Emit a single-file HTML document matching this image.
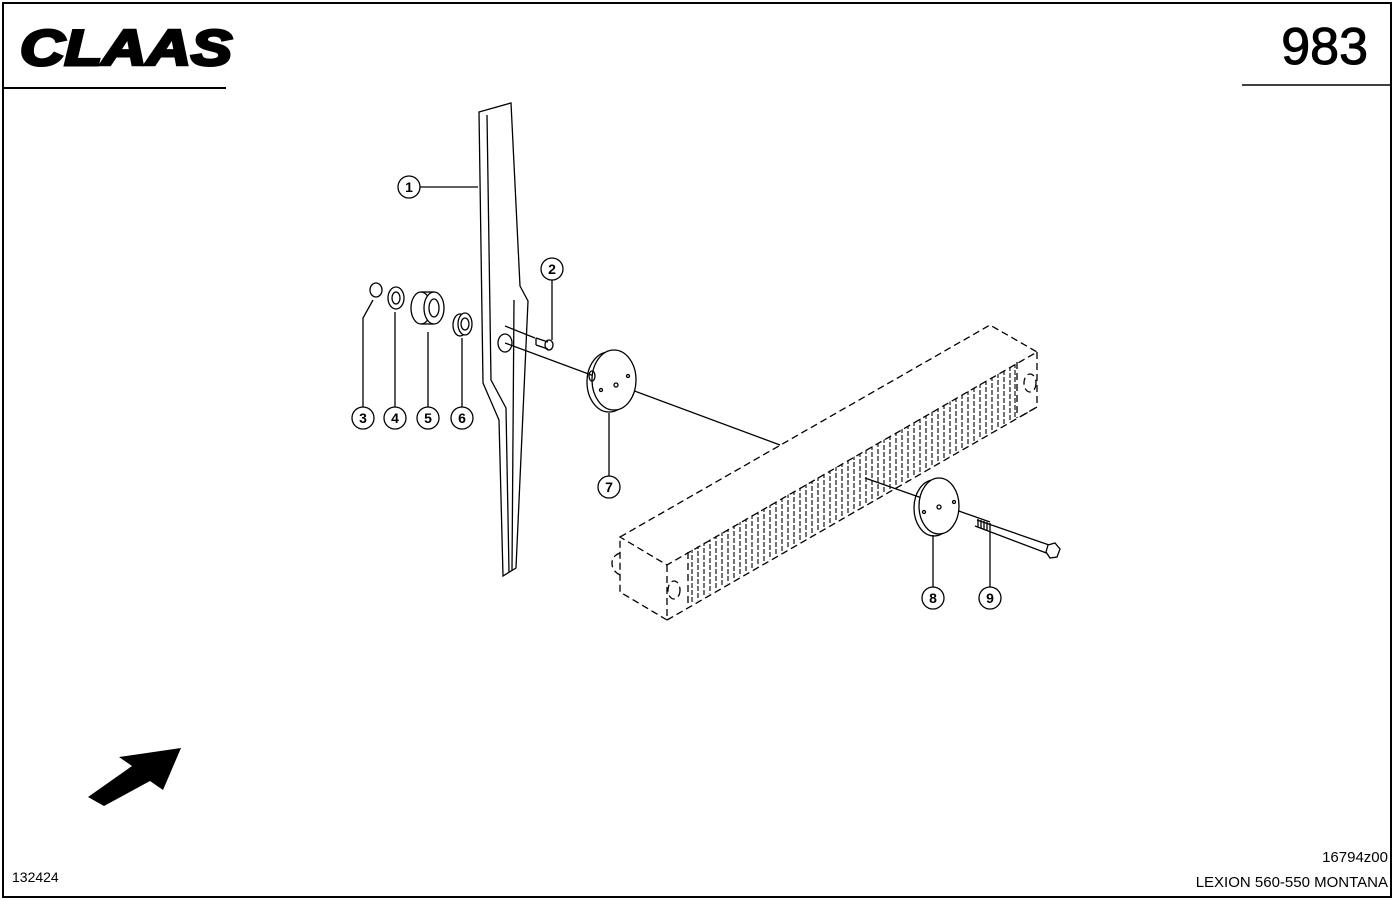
<!DOCTYPE html>
<html><head><meta charset="utf-8"><style>html,body{margin:0;padding:0;background:#fff}svg{display:block}</style></head>
<body>
<svg width="1394" height="900" viewBox="0 0 1394 900" xmlns="http://www.w3.org/2000/svg" font-family="Liberation Sans, Arial, sans-serif">
<defs>
<clipPath id="fc"><polygon points="688,552 1017,363 1017,418 688,606"/></clipPath>
</defs>
<rect x="0" y="0" width="1394" height="900" fill="#fff"/>
<rect x="3" y="3" width="1388" height="894" fill="none" stroke="#000" stroke-width="2"/>
<line x1="3" y1="88" x2="226" y2="88" stroke="#000" stroke-width="2"/>
<line x1="1242" y1="85" x2="1391" y2="85" stroke="#000" stroke-width="1.5"/>
<text x="20" y="65" font-size="50" font-weight="bold" font-style="italic" textLength="212" lengthAdjust="spacingAndGlyphs" stroke="#000" stroke-width="3">CLAAS</text>
<text x="1368" y="64" font-size="52" text-anchor="end" stroke="#000" stroke-width="1">983</text>
<text x="1388" y="862" font-size="15" text-anchor="end">16794z00</text>
<text x="1388" y="887" font-size="15" text-anchor="end">LEXION 560-550 MONTANA</text>
<text x="12" y="882" font-size="14">132424</text>

<g fill="none" stroke="#000" stroke-width="1.3">
<polygon points="479,112 511,103 520,286 528,301 516,568 503,576 499,420 483,383" fill="#fff"/>
<polyline points="487,115 491,380 506,408 509,572"/>
<polyline points="514,300 512,570"/>
<ellipse cx="505" cy="343" rx="7" ry="9"/>
<g stroke-dasharray="7,4">
<polygon points="620,537 990,325 1037,352 667,565"/>
<polyline points="667,565 667,620 620,592 620,537"/>
<polyline points="1037,352 1037,407 1020,417"/>
<line x1="1017" y1="362" x2="1017" y2="418"/>
<line x1="688" y1="552" x2="688" y2="607"/>
<ellipse cx="674" cy="590" rx="6" ry="9"/>
<ellipse cx="1030" cy="383" rx="6" ry="9"/>
<path d="M620,553 q-8,3 -8,10 q0,8 8,12"/>
</g>
<line x1="667" y1="620" x2="1037" y2="407" stroke-dasharray="7,4"/>
</g>
<g clip-path="url(#fc)" stroke="#000" stroke-width="1.1" stroke-dasharray="5,2" fill="none">
<path d="M692,548v70M698,544v70M704,541v70M710,537v70M716,534v70M722,531v70M728,527v70M734,524v70M740,520v70M746,517v70M752,514v70M758,510v70M764,507v70M770,503v70M776,500v70M782,497v70M788,493v70M794,490v70M800,486v70M806,483v70M812,479v70M818,476v70M824,473v70M830,469v70M836,466v70M842,462v70M848,459v70M854,455v70M860,452v70M866,449v70M872,445v70M878,442v70M884,438v70M890,435v70M896,431v70M902,428v70M908,424v70M914,421v70M920,418v70M926,414v70M932,411v70M938,407v70M944,404v70M950,400v70M956,397v70M962,394v70M968,390v70M974,387v70M980,383v70M986,380v70M992,376v70M998,373v70M1004,370v70M1010,366v70M1015,363v70"/>
</g>

<g fill="none" stroke="#000" stroke-width="1.3">
<line x1="505" y1="343" x2="780" y2="445"/>
<line x1="505" y1="326" x2="535" y2="338"/>
<line x1="865" y1="478" x2="990" y2="522"/>
<line x1="420" y1="187" x2="478" y2="187"/>
<line x1="552" y1="280" x2="552" y2="340"/>
<polyline points="363,407 363,318 373,300"/>
<line x1="395" y1="407" x2="395" y2="312"/>
<line x1="428" y1="407" x2="428" y2="332"/>
<line x1="462" y1="407" x2="462" y2="338"/>
<line x1="609" y1="476" x2="609" y2="413"/>
<line x1="933" y1="587" x2="933" y2="535"/>
<line x1="990" y1="587" x2="990" y2="532"/>
<ellipse cx="376" cy="290" rx="6" ry="7"/>
<ellipse cx="396" cy="298" rx="8" ry="11"/><ellipse cx="396" cy="298" rx="4" ry="6"/>
<ellipse cx="421" cy="308" rx="10" ry="16"/><ellipse cx="434" cy="308" rx="10" ry="16" fill="#fff"/><ellipse cx="434" cy="308" rx="5" ry="9"/>
<line x1="421" y1="292" x2="434" y2="292"/><line x1="421" y1="324" x2="434" y2="324"/>
<ellipse cx="460" cy="325" rx="7" ry="11"/><ellipse cx="465" cy="324" rx="7" ry="11" fill="#fff"/><ellipse cx="465" cy="324" rx="4" ry="6"/>
<path d="M536,338 l12,4 M536,345 l12,4 M536,338 v7" /><ellipse cx="549" cy="345" rx="4" ry="5"/>
<ellipse cx="609" cy="382" rx="22" ry="30"/><ellipse cx="614" cy="380" rx="22" ry="30" fill="#fff"/>
<circle cx="616" cy="385" r="2"/><circle cx="601" cy="390" r="1.5"/><circle cx="628" cy="376" r="1.5"/>
<ellipse cx="592" cy="376" rx="3" ry="5"/>
<ellipse cx="934" cy="508" rx="20" ry="28"/><ellipse cx="939" cy="506" rx="20" ry="28" fill="#fff"/>
<circle cx="939" cy="507" r="2"/><circle cx="924" cy="512" r="1.5"/><circle cx="954" cy="502" r="1.5"/>
<path d="M977,520 L1052,546 M975,526 L1049,554"/>
<path d="M978,519v8 M981,520v8 M984,521v8 M987,522v8 M990,523v8"/>
<polygon points="1048,545 1055,543 1060,549 1057,557 1050,558 1046,552" fill="#fff"/>
</g>
<g fill="#fff" stroke="#000" stroke-width="1.3">
<circle cx="409" cy="187" r="11"/><circle cx="552" cy="269" r="11"/>
<circle cx="363" cy="418" r="11"/><circle cx="395" cy="418" r="11"/><circle cx="428" cy="418" r="11"/><circle cx="462" cy="418" r="11"/>
<circle cx="609" cy="487" r="11"/><circle cx="933" cy="598" r="11"/><circle cx="990" cy="598" r="11"/>
</g>
<g font-size="14" text-anchor="middle" font-weight="bold">
<text x="409" y="192">1</text><text x="552" y="274">2</text>
<text x="363" y="423">3</text><text x="395" y="423">4</text><text x="428" y="423">5</text><text x="462" y="423">6</text>
<text x="609" y="492">7</text><text x="933" y="603">8</text><text x="990" y="603">9</text>
</g>
<polygon points="88,797 132,766 119,757 181,748 163,790 150,781 104,806" fill="#000"/>
</svg>
</body></html>
